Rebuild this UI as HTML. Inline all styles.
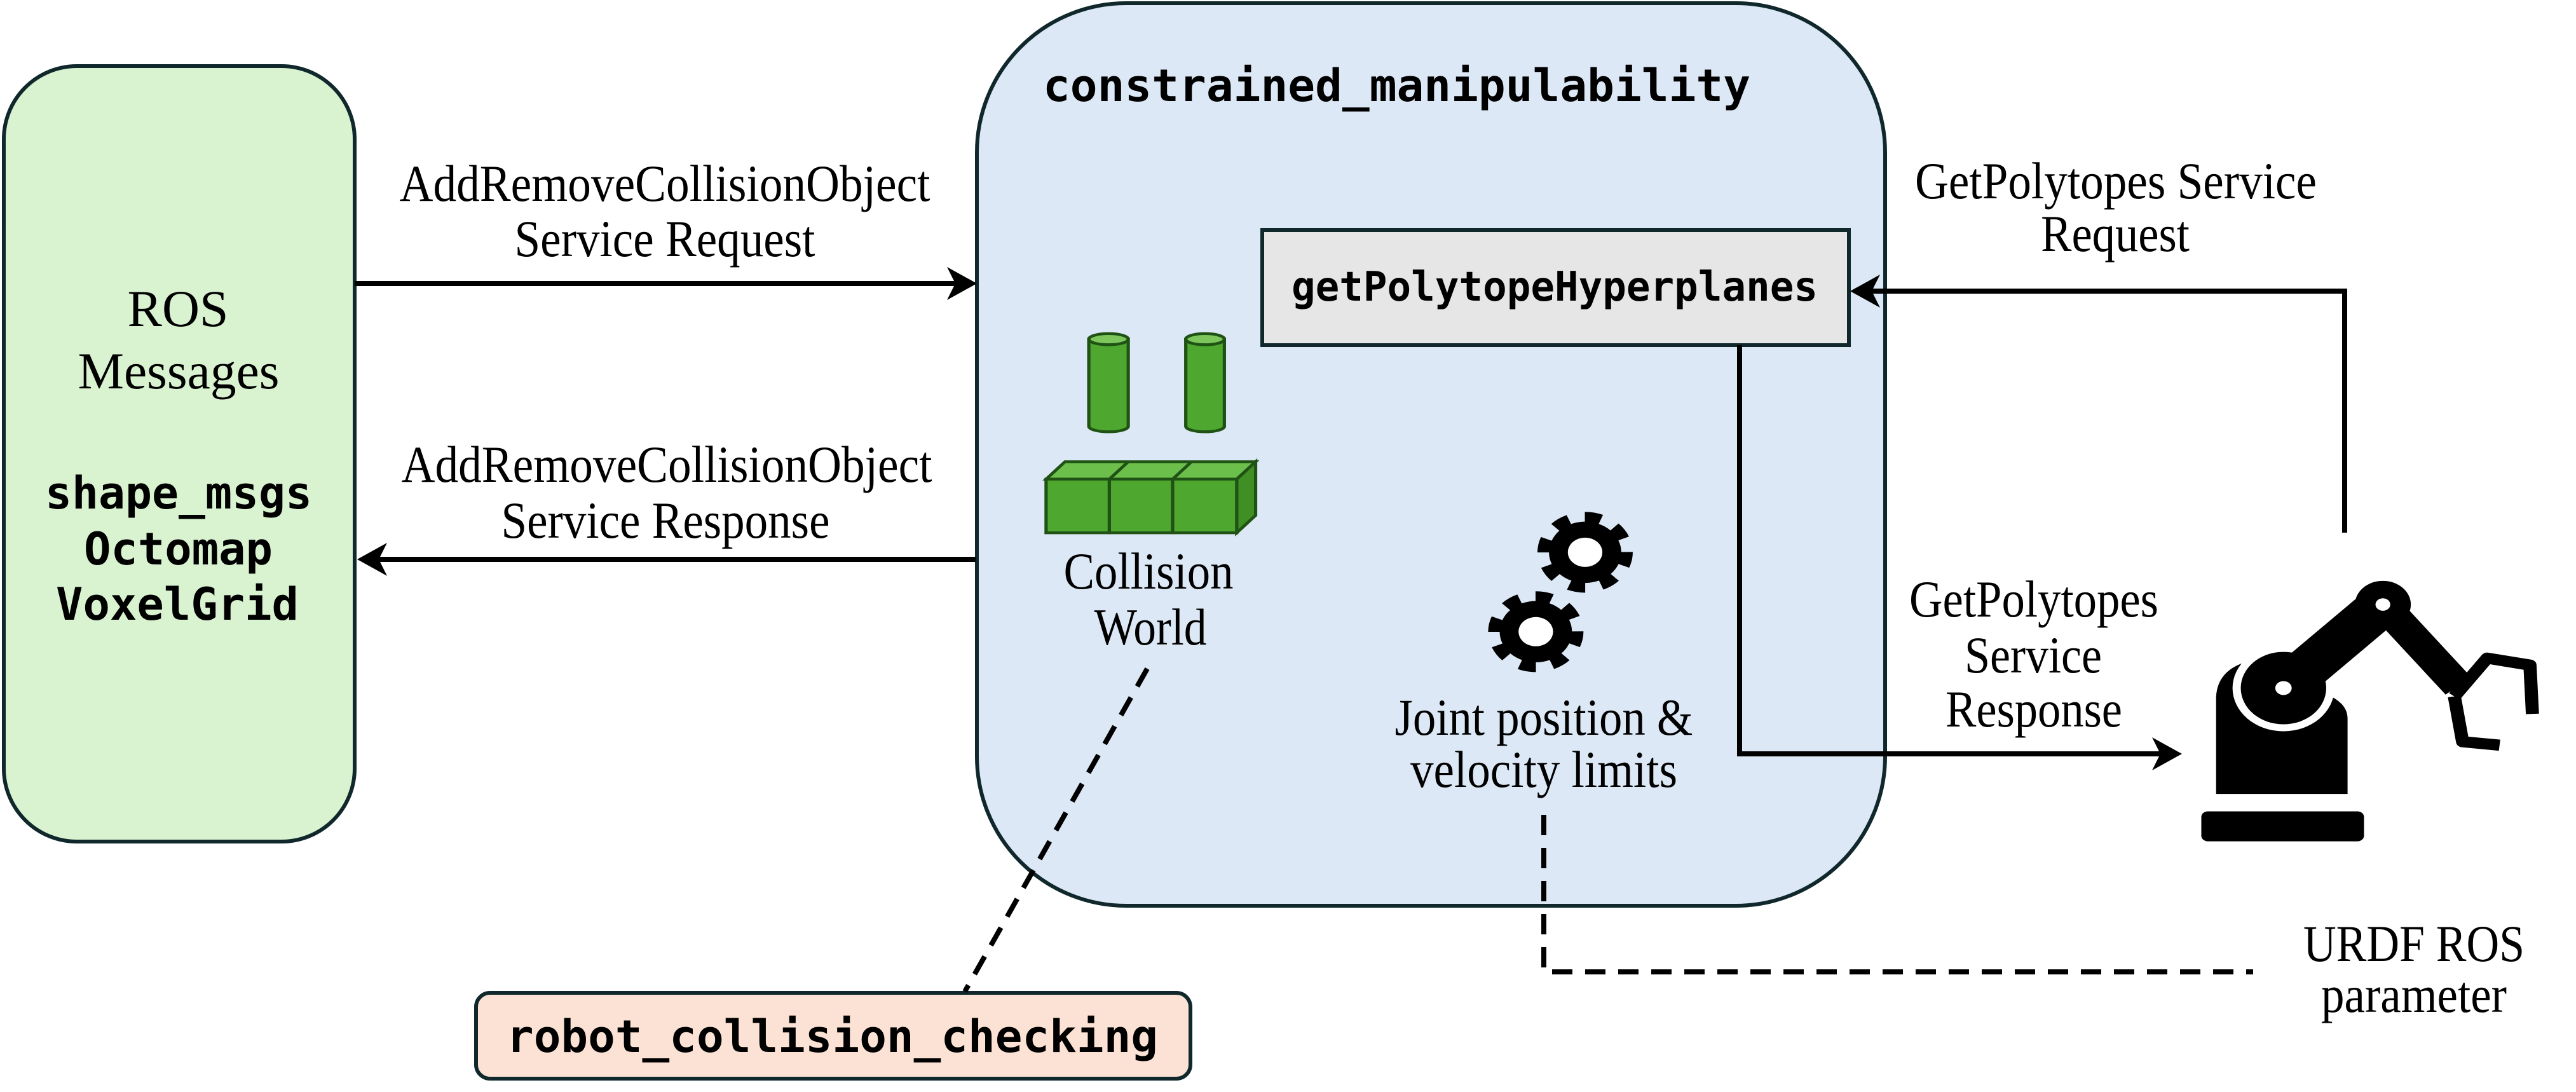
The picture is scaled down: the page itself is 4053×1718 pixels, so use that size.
<!DOCTYPE html>
<html><head><meta charset="utf-8"><style>
html,body{margin:0;padding:0;background:#fff;}
svg{display:block;}
.s{font-family:"Liberation Serif",serif;font-size:82px;fill:#000;}
.m{font-family:"DejaVu Sans Mono","Liberation Mono",monospace;font-size:70px;fill:#000;font-weight:bold;}
</style></head><body>
<svg width="4053" height="1718" viewBox="0 0 4053 1718" xmlns="http://www.w3.org/2000/svg">
<rect x="6" y="104" width="552" height="1220" rx="115" ry="115" fill="#d9f2d0" stroke="#10282c" stroke-width="6"/>
<rect x="1537" y="5" width="1429" height="1420" rx="235" ry="235" fill="#dce8f5" stroke="#10282c" stroke-width="6"/>
<rect x="1986" y="362" width="923" height="181" fill="#e6e6e6" stroke="#10282c" stroke-width="6"/>
<rect x="749" y="1562" width="1124" height="135" rx="22" ry="22" fill="#fbe2d4" stroke="#10282c" stroke-width="6"/>

<g stroke="#000" stroke-width="8" fill="none">
<line x1="558" y1="446" x2="1510" y2="446"/>
<line x1="1535" y1="880" x2="590" y2="880"/>
<polyline points="3689,838 3689,458 2935,458"/>
<polyline points="2737,543 2737,1186 3410,1186"/>
</g>
<g fill="#000">
<polygon points="1537,446 1490,420 1503,446 1490,472"/>
<polygon points="562,880 609,854 596,880 609,906"/>
<polygon points="2911,458 2958,432 2945,458 2958,484"/>
<polygon points="3433,1186 3386,1160 3399,1186 3386,1212"/>
</g>
<g stroke="#000" stroke-width="8" fill="none" stroke-dasharray="32,20">
<line x1="1805" y1="1052" x2="1518" y2="1560"/>
<polyline points="2429,1282 2429,1529 3545,1529"/>
</g>

<g transform="scale(1.2929,1.0957)" stroke="#1f5214" stroke-width="4">
<path d="M1325,487 L1325,612 A24,8 0 0 0 1373,612 L1373,487 Z" fill="#4ea72e"/>
<ellipse cx="1349" cy="487" rx="24" ry="8" fill="#7cc65c"/>
<path d="M1443,487 L1443,612 A23.5,8 0 0 0 1490,612 L1490,487 Z" fill="#4ea72e"/>
<ellipse cx="1466.5" cy="487" rx="23.5" ry="8" fill="#7cc65c"/>
<polygon points="1273,688 1296,663 1528,663 1505,688" fill="#6cbf4a"/>
<polygon points="1505,688 1528,663 1528,740 1505,765" fill="#3f8f25"/>
<rect x="1273" y="688" width="77" height="77" fill="#4ea72e"/>
<rect x="1350" y="688" width="77" height="77" fill="#4ea72e"/>
<rect x="1427" y="688" width="78" height="77" fill="#4ea72e"/>
<line x1="1350" y1="688" x2="1373" y2="663"/>
<line x1="1427" y1="688" x2="1450" y2="663"/>
</g>

<g transform="translate(2026,0) scale(1.2927,1.0957)">
<circle cx="362" cy="793" r="44" fill="#000"/>
<circle cx="362" cy="793" r="50" fill="none" stroke="#000" stroke-width="16" stroke-dasharray="19.6,19.6"/>
<circle cx="362" cy="793" r="21" fill="#fff"/>
<circle cx="302" cy="907" r="44" fill="#000"/>
<circle cx="302" cy="907" r="50" fill="none" stroke="#000" stroke-width="16" stroke-dasharray="19.6,19.6"/>
<circle cx="302" cy="907" r="21" fill="#fff"/>

<rect x="1112" y="1165" width="198" height="43" rx="8" fill="#000"/>
<path d="M1130,1140 L1130,1000 Q1132,962 1168,950 L1270,1000 Q1290,1012 1290,1032 L1290,1140 Z" fill="#000"/>
<circle cx="1212" cy="988" r="62" fill="#fff"/>
<line x1="1212" y1="988" x2="1333" y2="868" stroke="#000" stroke-width="58" stroke-linecap="round"/>
<circle cx="1212" cy="988" r="52" fill="#000"/>
<circle cx="1212" cy="988" r="10" fill="#fff"/>
<line x1="1333" y1="868" x2="1425" y2="985" stroke="#000" stroke-width="40"/>
<circle cx="1333" cy="868" r="34" fill="#000"/>
<circle cx="1333" cy="868" r="9" fill="#fff"/>
<polyline points="1420,1000 1460,945 1512,955 1515,1025" fill="none" stroke="#000" stroke-width="16" stroke-linejoin="round"/>
<polyline points="1420,1000 1430,1065 1475,1070" fill="none" stroke="#000" stroke-width="16" stroke-linejoin="round"/>
</g>

<g class="s" text-anchor="middle">
<text x="1046" y="316" textLength="835" lengthAdjust="spacingAndGlyphs">AddRemoveCollisionObject</text>
<text x="1046" y="403" textLength="473" lengthAdjust="spacingAndGlyphs">Service Request</text>
<text x="1049" y="758" textLength="835" lengthAdjust="spacingAndGlyphs">AddRemoveCollisionObject</text>
<text x="1047" y="846" textLength="517" lengthAdjust="spacingAndGlyphs">Service Response</text>
<text x="280" y="513" textLength="159" lengthAdjust="spacingAndGlyphs">ROS</text>
<text x="281" y="611" textLength="317" lengthAdjust="spacingAndGlyphs">Messages</text>
<text x="1807" y="926" textLength="267" lengthAdjust="spacingAndGlyphs">Collision</text>
<text x="1810" y="1014" textLength="177" lengthAdjust="spacingAndGlyphs">World</text>
<text x="3329" y="312" textLength="632" lengthAdjust="spacingAndGlyphs">GetPolytopes Service</text>
<text x="3328" y="395" textLength="234" lengthAdjust="spacingAndGlyphs">Request</text>
<text x="3200" y="970" textLength="392" lengthAdjust="spacingAndGlyphs">GetPolytopes</text>
<text x="3199" y="1058" textLength="216" lengthAdjust="spacingAndGlyphs">Service</text>
<text x="3200" y="1143" textLength="278" lengthAdjust="spacingAndGlyphs">Response</text>
<text x="2429" y="1156" textLength="469" lengthAdjust="spacingAndGlyphs">Joint position &amp;</text>
<text x="2429" y="1238" textLength="420" lengthAdjust="spacingAndGlyphs">velocity limits</text>
<text x="3798" y="1512" textLength="348" lengthAdjust="spacingAndGlyphs">URDF ROS</text>
<text x="3798" y="1592" textLength="292" lengthAdjust="spacingAndGlyphs">parameter</text>
</g>

<g class="m">
<text x="71" y="800" textLength="420" lengthAdjust="spacingAndGlyphs">shape_msgs</text>
<text x="132" y="888" textLength="297" lengthAdjust="spacingAndGlyphs">Octomap</text>
<text x="88" y="975" textLength="382" lengthAdjust="spacingAndGlyphs">VoxelGrid</text>
<text x="1641" y="159" textLength="1113" lengthAdjust="spacingAndGlyphs">constrained_manipulability</text>
<text x="2032" y="473" textLength="828" lengthAdjust="spacingAndGlyphs" style="font-size:64px">getPolytopeHyperplanes</text>
<text x="797" y="1655" textLength="1025" lengthAdjust="spacingAndGlyphs">robot_collision_checking</text>
</g>
</svg>
</body></html>
